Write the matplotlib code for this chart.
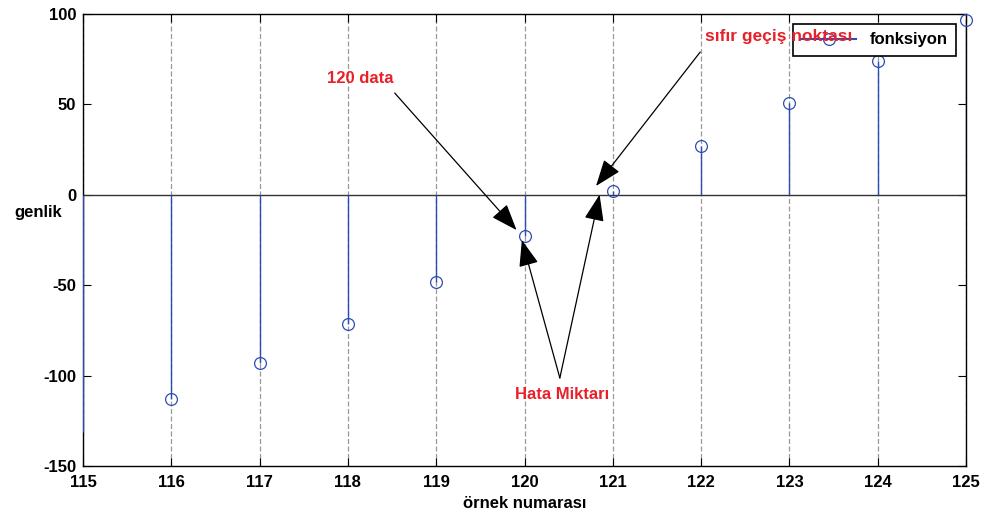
import matplotlib
matplotlib.use('Agg')
from matplotlib import pyplot as plt
import numpy as np

# sample index and amplitude of the function around the zero crossing
ornek = [115, 116, 117, 118, 119, 120, 121, 122, 123, 124, 125]
genlik = [-131, -113, -93, -71.5, -48, -23, 2, 27, 51, 74, 96.5]

xticks = [115, 116, 117, 118, 119, 120, 121, 122, 123, 124, 125]
yticks = [-150, -100, -50, 0, 50, 100]

plt.rcParams['font.family'] = ['Liberation Sans', 'DejaVu Sans']
plt.rcParams['font.weight'] = 'bold'

blue = '#2f4db0'
red = '#e8202a'

fig = plt.figure(figsize=(9.84, 5.2), dpi=100)
ax = fig.add_axes([0.0844, 0.1038, 0.8973, 0.8692])

ax.set_xlim(115, 125)
ax.set_ylim(-150, 100)

# stems from zero, circles only where the sample is inside the box
ax.vlines(ornek, 0, genlik, color=blue, lw=1, zorder=3)
line, = ax.plot(ornek[1:], genlik[1:], 'o', mfc='none', mec=blue, ms=8.5, mew=0.9,
                zorder=4, clip_on=False, label='fonksiyon')
ax.axhline(0, color='#333333', lw=1, zorder=2)

ax.set_xticks(xticks)
ax.set_yticks(yticks)
ax.set_xticklabels([str(t) for t in xticks], fontsize=12, weight='bold')
ax.set_yticklabels([str(t) for t in yticks], fontsize=12, weight='bold')
ax.tick_params(direction='in', top=True, right=True, length=6, width=0.8)
ax.tick_params(axis='x', pad=6.5)
ax.tick_params(axis='y', pad=5)
ax.xaxis.grid(True, ls=(0, (4, 2)), color='#999999', lw=0.9)
for s in ax.spines.values():
    s.set_linewidth(1)

ax.set_xlabel('örnek numarası', fontsize=12, weight='bold', labelpad=4)
ax.text(-0.024, 0.56, 'genlik', transform=ax.transAxes, ha='right', va='center',
        fontsize=12, weight='bold')

leg = ax.legend(handles=[line], loc='upper right', bbox_to_anchor=(0.9887, 0.9779),
                fancybox=False, edgecolor='black', framealpha=1, fontsize=12,
                handlelength=3.3, borderpad=0.5, numpoints=1, borderaxespad=0)
leg.get_frame().set_linewidth(1.2)
leg.legend_handles[0].set_linestyle('-')
leg.legend_handles[0].set_color(blue)

arrow = dict(arrowstyle='-|>,head_length=0.75,head_width=0.28', color='black',
             lw=0.9, mutation_scale=22, shrinkA=0, shrinkB=0)

ax.annotate('', xy=(119.91, -19.5), xytext=(118.53, 56.3), arrowprops=arrow, zorder=8)
ax.text(118.14, 64.6, '120 data', color=red, fontsize=12, weight='bold',
        ha='center', va='center', zorder=9)

ax.annotate('', xy=(120.81, 4.9), xytext=(121.99, 79), arrowprops=arrow, zorder=8)
ax.text(122.04, 87.8, 'sıfır geçiş noktası', color=red, fontsize=12.5, weight='bold',
        ha='left', va='center', zorder=9)

ax.annotate('', xy=(119.97, -25), xytext=(120.40, -101.3), arrowprops=arrow, zorder=8)
ax.annotate('', xy=(120.85, 0.1), xytext=(120.40, -101.3), arrowprops=arrow, zorder=8)
ax.text(120.42, -110.5, 'Hata Miktarı', color=red, fontsize=12, weight='bold',
        ha='center', va='center', zorder=9)

fig.savefig('out.png', dpi=100)
